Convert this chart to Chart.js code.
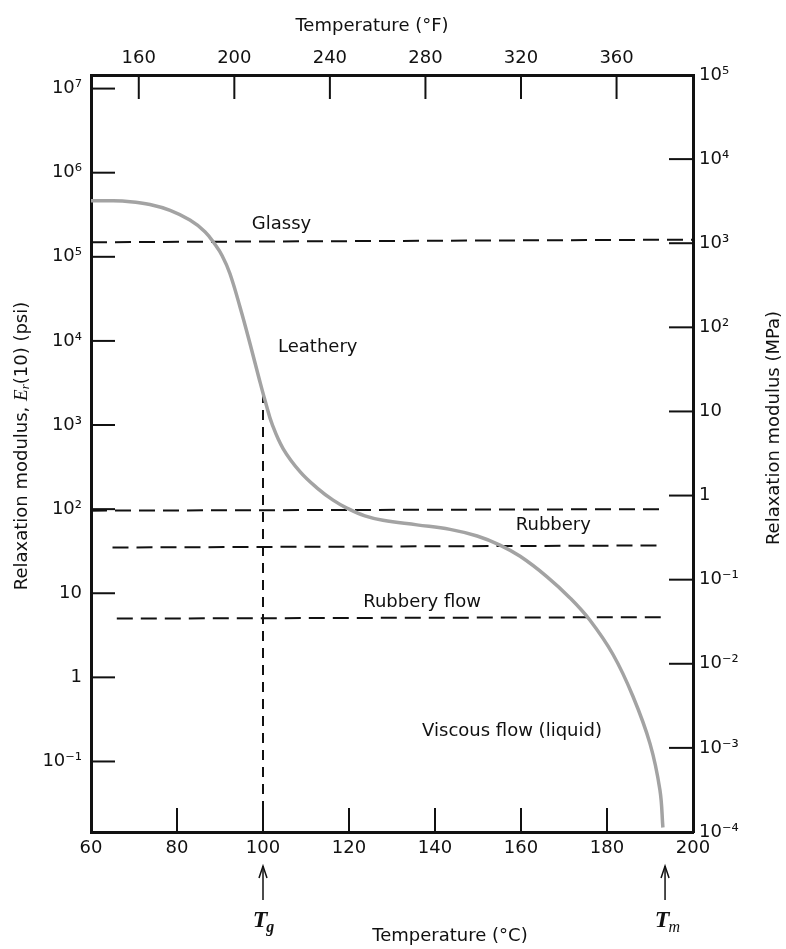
<!DOCTYPE html>
<html>
<head>
<meta charset="utf-8">
<script src="https://cdn.jsdelivr.net/npm/chart.js@4.4.1/dist/chart.umd.min.js"></script>
<style>
html, body { margin: 0; padding: 0; background: #fff; }
#wrap { position: relative; width: 786px; height: 949px; }
</style>
</head>
<body>
<div id="wrap"><canvas id="chart"></canvas></div>
<script>
// relaxation modulus curve (°C, psi)
const tempC = [60, 64.4, 69.1, 73.7, 78.4, 83, 86.5, 88.8, 90.5, 92.3, 94.7, 97, 99.3, 100.7, 102.1, 104.7, 108.6, 112.6, 116.3, 119.5, 123.7, 127.9, 135.8, 143.5, 149.8, 155.1, 159.8, 166, 171.4, 176, 181.4, 186, 190, 192.3, 193];
const modulusPsi = [4.64e5, 4.64e5, 4.52e5, 4.18e5, 3.56e5, 2.73e5, 1.99e5, 1.41e5, 1.03e5, 6.34e4, 2.48e4, 9.2e3, 3.25e3, 1.78e3, 1.03e3, 521, 279, 178, 128, 103, 83, 73.6, 65, 57.5, 47.9, 37.4, 27.5, 15.8, 8.8, 4.8, 1.87, 0.6, 0.163, 0.046, 0.0164];

// dashed boundaries between regions
const glassyX = [60, 200];
const glassyPsi = [1.49e5, 1.6e5];
const rubberyTopX = [60, 192.5];
const rubberyTopPsi = [96, 100];
const rubberyLowX = [65, 192.5];
const rubberyLowPsi = [35, 37];
const flowX = [66, 192.5];
const flowPsi = [5.0, 5.2];
const tgX = [100, 100];
const tgPsi = [2.4e3, 0.0145];

// region names
const regionNames = ['Glassy', 'Leathery', 'Rubbery', 'Rubbery flow', 'Viscous flow (liquid)'];
const regionAt = [[97.4, 2.46e5], [103.5, 8.5e3], [158.8, 65], [123.3, 7.8], [137, 0.23]];

// axes
const ticksC = [60, 80, 100, 120, 140, 160, 180, 200];
const ticksF = [160, 200, 240, 280, 320, 360];
const ticksPsi = [1e7, 1e6, 1e5, 1e4, 1e3, 1e2, 10, 1, 0.1];
const labelsPsi = ['10⁷', '10⁶', '10⁵', '10⁴', '10³', '10²', '10', '1', '10⁻¹'];
const ticksMPa = [1e5, 1e4, 1e3, 1e2, 10, 1, 0.1, 0.01, 1e-3, 1e-4];
const labelsMPa = ['10⁵', '10⁴', '10³', '10²', '10', '1', '10⁻¹', '10⁻²', '10⁻³', '10⁻⁴'];
const Tg = 100, Tm = 193.5;
const psiPerMPa = 145.038;

const FONT = 'DejaVu Sans';
const INK = '#111';

function pts(xs, ys) { return xs.map((x, i) => ({ x: x, y: ys[i] })); }
function dashed(xs, ys, dash) {
    return { data: pts(xs, ys), borderColor: INK, borderWidth: 2, borderDash: dash, pointRadius: 0, fill: false, tension: 0 };
}

function line(ctx, x1, y1, x2, y2) { ctx.beginPath(); ctx.moveTo(x1, y1); ctx.lineTo(x2, y2); ctx.stroke(); }

const extras = {
    id: 'extras',
    afterDraw(chart) {
        const { ctx, chartArea: a, scales } = chart;
        const L = 24;
        ctx.save();
        ctx.strokeStyle = INK;
        ctx.lineWidth = 2;
        // inward tick marks
        ticksPsi.forEach(v => { const p = scales.y.getPixelForValue(v); if (p > a.top + 3 && p < a.bottom - 3) line(ctx, a.left, p, a.left + L, p); });
        ticksMPa.forEach(v => { const p = scales.y2.getPixelForValue(v); if (p > a.top + 3 && p < a.bottom - 3) line(ctx, a.right - L, p, a.right, p); });
        ticksC.forEach(v => { const p = scales.x.getPixelForValue(v); if (p > a.left + 3 && p < a.right - 3) line(ctx, p, a.bottom, p, a.bottom - L); });
        ticksF.forEach(v => { const p = scales.x2.getPixelForValue(v); if (p > a.left + 3 && p < a.right - 3) line(ctx, p, a.top, p, a.top + L); });

        // region names
        ctx.fillStyle = INK;
        ctx.font = '18px "' + FONT + '"';
        ctx.textAlign = 'left';
        ctx.textBaseline = 'middle';
        regionNames.forEach((n, i) => {
            ctx.fillText(n, scales.x.getPixelForValue(regionAt[i][0]), scales.y.getPixelForValue(regionAt[i][1]));
        });

        // axis titles
        ctx.textAlign = 'center';
        ctx.fillText('Temperature (°F)', 372, 26);
        ctx.fillText('Temperature (°C)', 450, 936);

        ctx.save();
        ctx.translate(774, 428);
        ctx.rotate(-Math.PI / 2);
        ctx.fillText('Relaxation modulus (MPa)', 0, 0);
        ctx.restore();

        // left title with italic E sub r
        ctx.save();
        ctx.translate(22, 446);
        ctx.rotate(-Math.PI / 2);
        const parts = [
            ['Relaxation modulus, ', '18px "' + FONT + '"', 0],
            ['E', 'italic 19px "Liberation Serif"', 0],
            ['r', 'italic 13px "Liberation Serif"', 4],
            ['(10) (psi)', '18px "' + FONT + '"', 0]
        ];
        let total = 0;
        parts.forEach(p => { ctx.font = p[1]; total += ctx.measureText(p[0]).width; });
        let cx = -total / 2;
        ctx.textAlign = 'left';
        parts.forEach(p => { ctx.font = p[1]; ctx.fillText(p[0], cx, p[2]); cx += ctx.measureText(p[0]).width; });
        ctx.restore();

        // Tg / Tm arrows under the axis
        [[Tg, 'g'], [Tm, 'm']].forEach(([t, sub]) => {
            const x = scales.x.getPixelForValue(t);
            ctx.lineWidth = 1.5;
            line(ctx, x, 900, x, 866);
            ctx.beginPath();
            ctx.moveTo(x - 4, 878); ctx.lineTo(x, 866); ctx.lineTo(x + 4, 878);
            ctx.stroke();
            ctx.font = 'italic bold 24px "Liberation Serif"';
            const wT = ctx.measureText('T').width;
            ctx.textAlign = 'left';
            ctx.textBaseline = 'alphabetic';
            ctx.fillText('T', x - wT / 2 - 3, 927);
            ctx.font = sub === 'g' ? 'italic bold 16px "Liberation Serif"' : 'italic 16px "Liberation Serif"';
            ctx.fillText(sub, x + wT / 2 - 4, 932);
        });
        ctx.restore();
    }
};

const tickFont = { family: FONT, size: 18 };

new Chart(document.getElementById('chart'), {
    type: 'line',
    data: {
        datasets: [
            { data: pts(tempC, modulusPsi), borderColor: '#a3a3a3', borderWidth: 3.5, pointRadius: 0, fill: false, tension: 0.4 },
            dashed(glassyX, glassyPsi, [16, 8]),
            dashed(rubberyTopX, rubberyTopPsi, [16, 8]),
            dashed(rubberyLowX, rubberyLowPsi, [16, 8]),
            dashed(flowX, flowPsi, [16, 8]),
            dashed(tgX, tgPsi, [10, 7])
        ]
    },
    options: {
        responsive: true,
        maintainAspectRatio: false,
        animation: false,
        layout: { padding: 0 },
        plugins: { legend: { display: false }, tooltip: { enabled: false } },
        scales: {
            x: {
                type: 'linear', position: 'bottom', min: 60, max: 200,
                grid: { display: false, drawTicks: false },
                border: { display: true, color: INK, width: 3 },
                afterBuildTicks: s => { s.ticks = ticksC.map(v => ({ value: v })); },
                afterFit: s => { s.height = 117; },
                ticks: { font: tickFont, color: INK, padding: 6, autoSkip: false, maxRotation: 0 }
            },
            x2: {
                type: 'linear', position: 'top', min: 140, max: 392,
                grid: { display: false, drawTicks: false },
                border: { display: true, color: INK, width: 3 },
                afterBuildTicks: s => { s.ticks = ticksF.map(v => ({ value: v })); },
                afterFit: s => { s.height = 75; },
                ticks: { font: tickFont, color: INK, padding: 6, autoSkip: false, maxRotation: 0 }
            },
            y: {
                type: 'logarithmic', position: 'left', min: 1e-4 * psiPerMPa, max: 1e5 * psiPerMPa,
                grid: { display: false, drawTicks: false },
                border: { display: true, color: INK, width: 3 },
                afterBuildTicks: s => { s.ticks = ticksPsi.map(v => ({ value: v })); },
                afterFit: s => { s.width = 91; },
                ticks: { font: tickFont, color: INK, padding: 9, autoSkip: false, callback: v => labelsPsi[ticksPsi.indexOf(v)] }
            },
            y2: {
                type: 'logarithmic', position: 'right', min: 1e-4, max: 1e5,
                grid: { display: false, drawTicks: false },
                border: { display: true, color: INK, width: 3 },
                afterBuildTicks: s => { s.ticks = ticksMPa.map(v => ({ value: v })); },
                afterFit: s => { s.width = 93; },
                ticks: { font: tickFont, color: INK, padding: 6, autoSkip: false, callback: v => labelsMPa[ticksMPa.indexOf(v)] }
            }
        }
    },
    plugins: [extras]
});
</script>
</body>
</html>
